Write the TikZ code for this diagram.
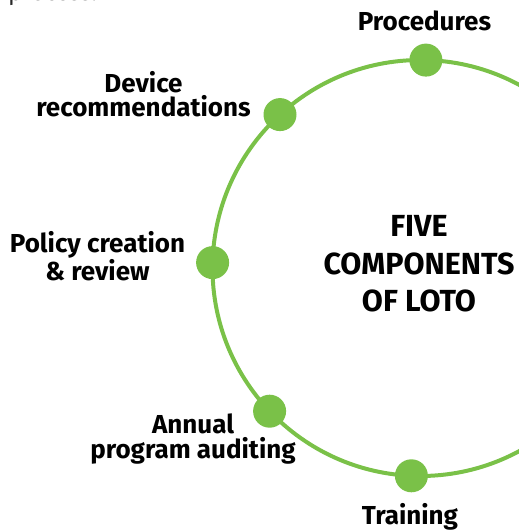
\documentclass[tikz,border=0pt]{standalone}
\usepackage{fontspec}
\setmainfont{Fira Sans}
\definecolor{lotogreen}{RGB}{122,193,72}
\definecolor{inkgrey}{RGB}{40,40,40}

\begin{document}
\begin{tikzpicture}[x=1pt,y=1pt]
        % Define the styles
        \tikzset{dot/.style={circle,fill=lotogreen,minimum size=33pt,inner sep=0pt},
                 step label/.style={font=\bfseries\fontsize{26}{24.5}\selectfont,align=center,inner sep=0pt},
                 ring/.style={draw=lotogreen,line width=4pt}}

        \useasboundingbox (0,0) rectangle (519,531);

        % Cut-off text from above
        \node[anchor=base west,inner sep=0pt,text=inkgrey,font=\fontsize{24}{28}\selectfont] (prev) at (8,530.5) {process.};

        % Ring
        \coordinate (ringc) at (420.5,263);
        \draw[ring] (ringc) circle [radius=208pt];

        % Centre title
        \node[font=\bfseries\fontsize{30.5}{37.5}\selectfont,align=center,inner sep=0pt] (hub) at (419,267)
            {FIVE\\COMPONENTS\\OF LOTO};

        % Dots
        \node[dot] (proc) at (425.9,470.9) {};
        \node[dot] (dev) at (280.0,416.4) {};
        \node[dot] (pol) at (212.6,268.4) {};
        \node[dot] (aud) at (269.6,119.8) {};
        \node[dot] (train) at (411.4,55.2) {};

        % Labels
        \node[step label] (proclbl) at (424.5,510) {Procedures};
        \node[step label] (devlbl) at (143.5,437) {Device\\recommendations};
        \node[step label] (pollbl) at (97.5,275) {Policy creation\\\& review};
        \node[step label] (audlbl) at (193,92) {Annual\\program auditing};
        \node[step label] (trainlbl) at (410,14) {Training};
    \end{tikzpicture}
\end{document}
